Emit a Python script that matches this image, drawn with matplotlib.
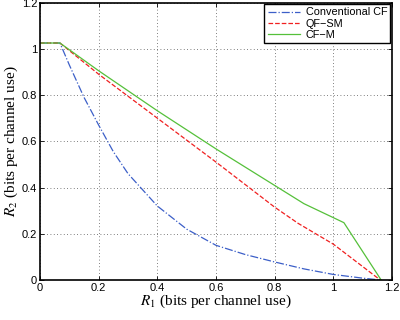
import matplotlib
matplotlib.use("Agg")
import matplotlib.pyplot as plt

# rate region curves
cf_x = [0, 0.068, 0.1, 0.15, 0.2, 0.25, 0.3, 0.4, 0.5, 0.6, 0.7, 0.8, 0.9, 1.0, 1.1, 1.16]
cf_y = [1.025, 1.025, 0.93, 0.79, 0.67, 0.555, 0.46, 0.32, 0.22, 0.15, 0.11, 0.078, 0.048, 0.024, 0.008, 0]

qf_x = [0, 0.068, 0.2, 0.4, 0.6, 0.8, 0.88, 1.0, 1.16]
qf_y = [1.025, 1.025, 0.89, 0.70, 0.51, 0.315, 0.245, 0.155, 0]

cfm_x = [0, 0.068, 0.2, 0.4, 0.6, 0.8, 0.9, 1.036, 1.163]
cfm_y = [1.025, 1.025, 0.905, 0.732, 0.567, 0.409, 0.33, 0.248, 0]

ticks = [0, 0.2, 0.4, 0.6, 0.8, 1, 1.2]
tick_labels = ["0", "0.2", "0.4", "0.6", "0.8", "1", "1.2"]

plt.rcParams['mathtext.fontset'] = 'stix'
plt.rcParams['font.family'] = ['Liberation Sans', 'DejaVu Sans']

fig = plt.figure(figsize=(4, 3.2), dpi=100)
ax = fig.add_axes([0.1, 0.125, 0.88, 0.867])

ax.plot(cf_x, cf_y, '-.', color='#3c5fc8', lw=0.9, label='Conventional CF')
ax.plot(qf_x, qf_y, '--', color='#f02020', lw=0.9, label='QF\u2212SM')
ax.plot(cfm_x, cfm_y, '-', color='#55c03a', lw=0.9, label='CF\u2212M')

ax.set_xlim(0, 1.2)
ax.set_ylim(0, 1.2)
ax.set_xticks(ticks)
ax.set_xticklabels(tick_labels)
ax.set_yticks(ticks)
ax.set_yticklabels(tick_labels)
ax.tick_params(direction='in', labelsize=8, length=3, width=0.6, top=True, right=True, pad=2)
ax.grid(True, linestyle=(0, (1, 3)), color='#555555', lw=0.6)
for s in ax.spines.values():
    s.set_linewidth(1.2)

ax.set_xlabel(r'$R_1$ (bits per channel use)', family='Liberation Serif', fontsize=11, labelpad=0)
ax.set_ylabel(r'$R_2$ (bits per channel use)', family='Liberation Serif', fontsize=11, labelpad=1)

leg = ax.legend(loc='upper right', fontsize=7.8, fancybox=False, framealpha=1,
                edgecolor='black', borderaxespad=0.15, handlelength=3.0,
                handletextpad=0.5, labelspacing=0.1, borderpad=0.3)
leg.get_frame().set_linewidth(1.0)

fig.savefig('out.png', dpi=100)
